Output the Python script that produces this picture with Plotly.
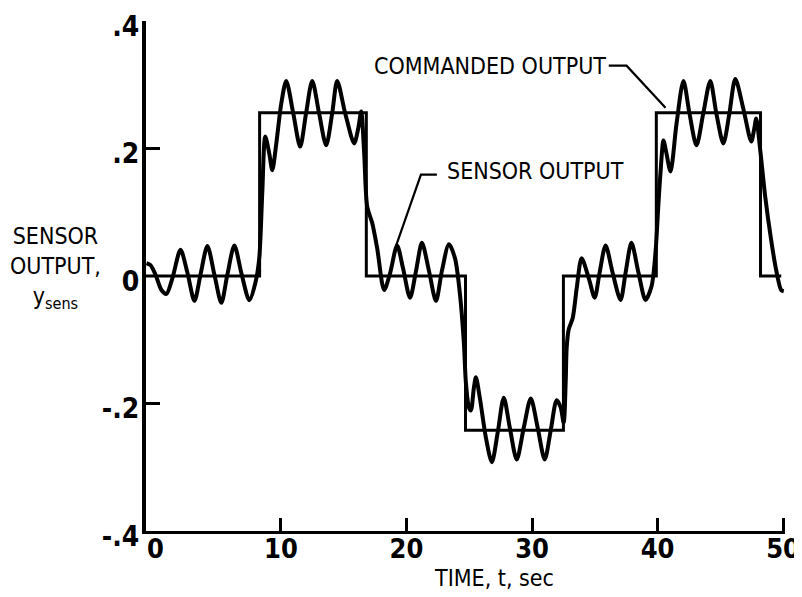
import plotly.graph_objects as go

# ---- data ----
cmd_t = [-0.75, 8.3, 16.8, 24.7, 32.5, 39.9, 48.2, 49.85]
cmd_y = [0.0, 0.256, 0.0, -0.242, 0.0, 0.256, 0.0, 0.0]

sens_t = [-0.71, -0.39, 0.01, 0.48, 0.88, 1.36, 2.00, 2.55, 3.11, 3.59, 4.14, 4.70,
          5.25, 5.73, 6.29, 6.84, 7.48, 7.96, 8.27, 8.51, 8.75, 9.07, 9.31, 9.63,
          10.02, 10.42, 10.98, 11.53, 12.00, 12.49, 13.04, 13.60, 14.08, 14.48, 15.12,
          15.83, 16.15, 16.39, 16.63, 16.87, 17.27, 17.66, 18.22, 18.70, 19.25, 19.72,
          20.28, 20.76, 21.23, 21.79, 22.35, 22.82, 23.38, 23.86, 24.25, 24.57, 24.73,
          24.97, 25.13, 25.37, 25.53, 25.84, 26.32, 26.80, 27.27, 27.75, 28.23, 28.78,
          29.34, 29.90, 30.45, 31.01, 31.49, 31.96, 32.28, 32.52, 32.68, 32.76, 32.92,
          33.24, 33.56, 33.95, 34.51, 34.99, 35.38, 35.86, 36.42, 37.05, 37.45, 37.92,
          38.48, 39.04, 39.52, 39.83, 40.07, 40.23, 40.47, 40.71, 41.03, 41.51, 42.06,
          42.54, 43.10, 43.64, 44.20, 44.68, 45.24, 45.72, 46.19, 46.83, 47.46, 47.70,
          47.86, 48.18, 48.57, 49.05, 49.45, 49.84, 50.05]
sens_y = [0.020, 0.017, 0.002, -0.022, -0.028, -0.003, 0.041, 0.005, -0.039, 0.002, 0.047, 0.002,
          -0.042, 0.002, 0.048, 0.005, -0.038, -0.011, 0.028, 0.130, 0.219, 0.192, 0.166, 0.208,
          0.270, 0.306, 0.255, 0.203, 0.255, 0.306, 0.255, 0.205, 0.255, 0.306, 0.255,
          0.208, 0.231, 0.258, 0.192, 0.109, 0.083, 0.044, -0.022, 0.005, 0.048, 0.0125,
          -0.034, 0.008, 0.052, 0.008, -0.039, 0.008, 0.050, 0.028, -0.027, -0.105, -0.167,
          -0.206, -0.211, -0.175, -0.159, -0.191, -0.253, -0.292, -0.245, -0.191, -0.238, -0.288,
          -0.238, -0.192, -0.238, -0.288, -0.242, -0.195, -0.206, -0.230, -0.167, -0.1125, -0.084,
          -0.066, -0.019, 0.028, -0.003, -0.034, 0.005, 0.048, 0.005, -0.0375, 0.005, 0.052,
          0.005, -0.0375, -0.016, 0.036, 0.114, 0.161, 0.2125, 0.192, 0.164, 0.239, 0.306,
          0.255, 0.205, 0.255, 0.306, 0.255, 0.208, 0.255, 0.309, 0.2625, 0.211, 0.231,
          0.247, 0.197, 0.125, 0.056, 0.009, -0.022, -0.024]

x_ticks = [0, 10, 20, 30, 40, 50]
x_tick_marks = [10, 20, 30, 40, 50]
y_ticks = [-0.4, -0.2, 0, 0.2, 0.4]
y_tick_text = ["-.4", "-.2", "0", ".2", ".4"]
y_tick_marks = [-0.2, 0.2]

X_RANGE = [-0.75, 50.15]
Y_RANGE = [-0.4, 0.4]

TEXT_FONT = "DejaVu Sans Condensed, Liberation Sans Narrow, Arial Narrow, sans-serif"
TICK_FONT = "Liberation Sans Narrow, DejaVu Sans Condensed, Arial Narrow, sans-serif"

fig = go.Figure()
fig.add_trace(go.Scatter(x=cmd_t, y=cmd_y, mode="lines", line=dict(color="black", width=3, shape="hv"),
                         name="COMMANDED OUTPUT", hoverinfo="skip"))
fig.add_trace(go.Scatter(x=sens_t, y=sens_y, mode="lines",
                         line=dict(color="black", width=4, shape="spline", smoothing=0.8),
                         name="SENSOR OUTPUT", hoverinfo="skip"))

# leader lines for the labels
fig.add_trace(go.Scatter(x=[36.11, 37.53, 40.63], y=[0.33, 0.33, 0.264], mode="lines",
                         line=dict(color="black", width=2.2), hoverinfo="skip"))
fig.add_trace(go.Scatter(x=[22.42, 21.15, 19.16], y=[0.159, 0.159, 0.047], mode="lines",
                         line=dict(color="black", width=2.2), hoverinfo="skip"))

# placeholder trace so the tick-mark overlay axes are drawn
fig.add_trace(go.Scatter(x=[None], y=[None], xaxis="x2", yaxis="y2", mode="lines",
                         hoverinfo="skip", showlegend=False))

fig.add_annotation(x=26.68, y=0.33, xref="x", yref="y", text="COMMANDED OUTPUT", showarrow=False,
                   xanchor="center", yanchor="middle",
                   font=dict(family=TEXT_FONT, size=23, color="black"))
fig.add_annotation(x=30.25, y=0.164, xref="x", yref="y", text="SENSOR OUTPUT", showarrow=False,
                   xanchor="center", yanchor="middle",
                   font=dict(family=TEXT_FONT, size=23, color="black"))
fig.add_annotation(x=-0.142, y=0.0125, xref="paper", yref="y",
                   text="SENSOR<br>OUTPUT,<br>y<sub>sens</sub>", showarrow=False, align="center",
                   xanchor="center", yanchor="middle",
                   font=dict(family=TEXT_FONT, size=23, color="black"))
fig.add_annotation(x=26.96, y=-0.092, xref="x", yref="paper", text="TIME, t, sec", showarrow=False,
                   xanchor="center", yanchor="middle",
                   font=dict(family=TEXT_FONT, size=23, color="black"))

# the page body adds an 8 px offset, so the figure is 8 px smaller than the window
fig.update_layout(
    width=794, height=589,
    margin=dict(l=138, r=17, t=13, b=66, autoexpand=False),
    paper_bgcolor="white", plot_bgcolor="white",
    showlegend=False,
    xaxis=dict(range=X_RANGE, tickvals=x_ticks, ticks="", showline=True, linecolor="black",
               linewidth=3, showgrid=False, zeroline=False, ticklabelstandoff=-8,
               automargin=False, ticklabeloverflow="allow",
               tickfont=dict(family=TICK_FONT, size=27, color="black", weight="bold")),
    yaxis=dict(range=Y_RANGE, tickvals=y_ticks, ticktext=y_tick_text, ticks="", showline=True,
               linecolor="black", linewidth=4, showgrid=False, zeroline=False, ticklabelstandoff=-3,
               ticklabelshift=5, automargin=False, ticklabeloverflow="allow",
               tickfont=dict(family=TICK_FONT, size=28, color="black", weight="bold")),
    xaxis2=dict(range=X_RANGE, overlaying="x", anchor="y2", tickvals=x_tick_marks, ticks="inside",
                ticklen=13, tickwidth=2.5, tickcolor="black", showticklabels=False, showline=False,
                showgrid=False, zeroline=False, automargin=False),
    yaxis2=dict(range=Y_RANGE, overlaying="y", anchor="x2", tickvals=y_tick_marks, ticks="inside",
                ticklen=14, tickwidth=2.5, tickcolor="black", showticklabels=False, showline=False,
                showgrid=False, zeroline=False, automargin=False),
)

fig.write_html("out.html")
